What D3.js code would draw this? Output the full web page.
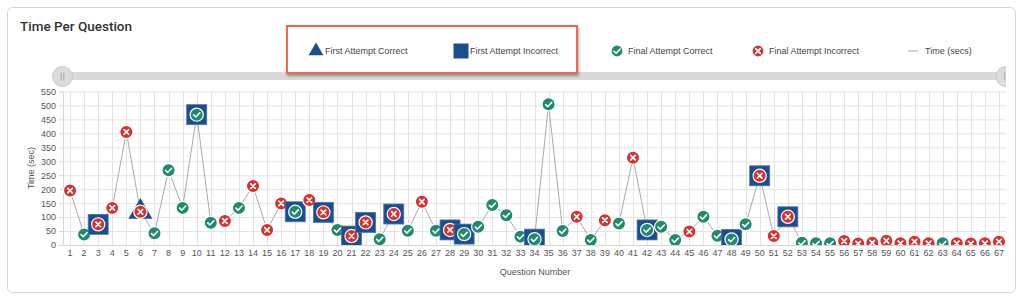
<!DOCTYPE html>
<html>
<head>
<meta charset="utf-8">
<script src="https://cdn.jsdelivr.net/npm/d3@7"></script>
<style>
  html, body { margin: 0; padding: 0; background: #fff; }
  svg { display: block; font-family: "Liberation Sans", Arial, sans-serif; }
</style>
</head>
<body>
<div id="app"></div>
<script>
// time spent on each question, in seconds
const times = [195, 38, 74, 133, 405, 119, 42, 268, 133, 467,
    80, 86, 133, 211, 54, 149, 119, 161, 117, 54,
    32, 81, 21, 111, 51, 155, 51, 54, 39, 65,
    143, 107, 30, 21, 504, 50, 101, 18, 89, 77,
    313, 54, 65, 18, 48, 101, 33, 20, 74, 248,
    32, 101, 8, 6, 6, 14, 5, 8, 15, 6,
    12, 6, 6, 6, 5, 6, 12];
// final attempt: C = correct, I = incorrect
const finalAttempt = ["I", "C", "I", "I", "I", "I", "C", "C", "C", "C",
    "C", "I", "C", "I", "I", "I", "C", "I", "I", "C",
    "I", "I", "C", "I", "C", "I", "C", "I", "C", "C",
    "C", "C", "C", "C", "C", "C", "I", "C", "I", "C",
    "I", "C", "C", "C", "I", "C", "C", "C", "C", "I",
    "I", "I", "C", "C", "C", "I", "I", "I", "I", "I",
    "I", "I", "C", "I", "I", "I", "I"];
// first attempt, only for questions that took more than one try
const firstAttempt = { 3: "I", 6: "C", 10: "I", 17: "I", 19: "I", 21: "I", 22: "I", 24: "I",
    28: "I", 29: "I", 34: "I", 42: "I", 48: "I", 50: "I", 52: "I" };
const questions = times.map((d, i) => i + 1);
const yTicks = [0, 50, 100, 150, 200, 250, 300, 350, 400, 450, 500, 550];
const legendItems = ["First Attempt Correct", "First Attempt Incorrect", "Final Attempt Correct", "Final Attempt Incorrect", "Time (secs)"];

const WIDTH = 1024, HEIGHT = 300;
const GREEN = "#1f8a6e", RED = "#d7302d", BLUE = "#1c4d8f";

const data = questions.map((q, i) => ({ q: q, t: times[i], fin: finalAttempt[i], first: firstAttempt[q] }));

const svg = d3.select("#app").append("svg")
    .attr("width", WIDTH)
    .attr("height", HEIGHT);

const defs = svg.append("defs");
const shadow = defs.append("filter").attr("id", "shadow")
    .attr("x", "-10%").attr("y", "-20%").attr("width", "120%").attr("height", "150%");
shadow.append("feDropShadow").attr("dx", 1).attr("dy", 2).attr("stdDeviation", 1.5)
    .attr("flood-color", "#000").attr("flood-opacity", 0.35);

// card
svg.append("rect")
    .attr("x", 7.5).attr("y", 7.5).attr("width", 1008).attr("height", 285)
    .attr("rx", 5).attr("fill", "#fff").attr("stroke", "#d4d4d4");

svg.append("text")
    .attr("x", 20).attr("y", 31)
    .attr("font-family", "Roboto, sans-serif")
    .attr("font-size", 13.5).attr("font-weight", 500)
    .attr("fill", "#333")
    .text("Time Per Question");

const x = d3.scaleBand().domain(questions).range([63, 1006]);
const y = d3.scaleLinear().domain([0, 550]).range([245, 91.5]);
const cx = q => x(q) + x.bandwidth() / 2;

// slider (range navigator)
defs.append("clipPath").attr("id", "sliderClip")
    .append("rect").attr("x", 40).attr("y", 60).attr("width", 966).attr("height", 30);
const slider = svg.append("g").attr("clip-path", "url(#sliderClip)");
slider.append("rect").attr("x", 62).attr("y", 72).attr("width", 944).attr("height", 8).attr("fill", "#d9d9d9");
[62.5, 1006].forEach(hx => {
    const h = slider.append("g").attr("transform", `translate(${hx},76.5)`);
    h.append("circle").attr("r", 10).attr("fill", "#dcdcdc").attr("stroke", "#c8c8c8");
    h.selectAll("line").data([-1.3, 1.3]).join("line")
        .attr("x1", d => d).attr("x2", d => d).attr("y1", -4).attr("y2", 4)
        .attr("stroke", "#999").attr("stroke-width", 0.8);
});

// grid
const chart = svg.append("g");
chart.append("g").selectAll("line").data(yTicks).join("line")
    .attr("x1", 63).attr("x2", 1006)
    .attr("y1", d => y(d) + 0.5).attr("y2", d => y(d) + 0.5)
    .attr("stroke", "#e3e3e3");
chart.append("g").selectAll("line").data(questions).join("line")
    .attr("x1", d => Math.round(cx(d)) + 0.5).attr("x2", d => Math.round(cx(d)) + 0.5)
    .attr("y1", y(550)).attr("y2", 245)
    .attr("stroke", "#e3e3e3");

// axes
const yAxis = chart.append("g").attr("transform", "translate(63,0)")
    .call(d3.axisLeft(y).tickValues(yTicks).tickSize(4).tickPadding(3));
const xAxis = chart.append("g").attr("transform", "translate(0,245)")
    .call(d3.axisBottom(x).tickSize(0).tickPadding(5));
[yAxis, xAxis].forEach(a => {
    a.select(".domain").attr("stroke", "#d6d6d6");
    a.selectAll(".tick line").attr("stroke", "#d6d6d6");
    a.selectAll("text").attr("fill", "#555").attr("font-size", 9)
        .attr("font-family", "'Liberation Sans', Arial, sans-serif");
});

chart.append("text")
    .attr("transform", "translate(34,168) rotate(-90)")
    .attr("text-anchor", "middle").attr("font-size", 9).attr("fill", "#555")
    .text("Time (sec)");
chart.append("text")
    .attr("x", 535).attr("y", 275)
    .attr("text-anchor", "middle").attr("font-size", 9).attr("fill", "#555")
    .text("Question Number");

// plot area with clipping at the axis
defs.append("clipPath").attr("id", "plotClip")
    .append("rect").attr("x", 63).attr("y", 60).attr("width", 943).attr("height", 185);
const plot = svg.append("g").attr("clip-path", "url(#plotClip)");

const line = d3.line().x(d => cx(d.q)).y(d => y(d.t));
plot.append("path").datum(data)
    .attr("d", line).attr("fill", "none").attr("stroke", "#aaa").attr("stroke-width", 1);

function drawFinal(g, fin, r) {
    g.append("circle").attr("r", r)
        .attr("fill", fin === "C" ? GREEN : RED)
        .attr("stroke", "#fff").attr("stroke-width", 1.2);
    if (fin === "C") {
        g.append("path").attr("d", "M-3,0.2L-0.9,2.3L3.1,-1.9")
            .attr("fill", "none").attr("stroke", "#fff").attr("stroke-width", 1.6)
            .attr("stroke-linecap", "round").attr("stroke-linejoin", "round");
    } else {
        g.append("path").attr("d", "M-2.3,-2.3L2.3,2.3M2.3,-2.3L-2.3,2.3")
            .attr("fill", "none").attr("stroke", "#fff").attr("stroke-width", 1.7)
            .attr("stroke-linecap", "round");
    }
}

const marks = plot.selectAll("g.mark").data(data).join("g")
    .attr("class", "mark")
    .attr("transform", d => `translate(${cx(d.q)},${y(d.t)})`);
marks.each(function (d) {
    const g = d3.select(this);
    if (d.first === "I") {
        g.append("rect").attr("x", -10).attr("y", -10).attr("width", 20).attr("height", 20)
            .attr("fill", BLUE).attr("stroke", "#4f74ad").attr("stroke-width", 0.8);
    } else if (d.first === "C") {
        g.append("path").attr("d", d3.symbol(d3.symbolTriangle, 250)()).attr("fill", BLUE);
    }
    drawFinal(g, d.fin, 6.6);
});

// legend
const legendBox = svg.append("rect")
    .attr("x", 287).attr("y", 26).attr("width", 290).attr("height", 47)
    .attr("fill", "#fff").attr("stroke", "#ec6a55").attr("stroke-width", 2)
    .attr("filter", "url(#shadow)");

const legendX = [316, 461, 617, 758, 913];
const legendTextX = [325, 470, 628, 769, 925];
const legend = svg.append("g");
legendItems.forEach((name, i) => {
    const g = legend.append("g").attr("transform", `translate(${legendX[i]},51)`);
    if (i === 0) g.append("path").attr("d", d3.symbol(d3.symbolTriangle, 95)()).attr("fill", BLUE);
    if (i === 1) g.append("rect").attr("x", -7.5).attr("y", -7.5).attr("width", 15).attr("height", 15).attr("fill", BLUE);
    if (i === 2) drawFinal(g, "C", 6);
    if (i === 3) drawFinal(g, "I", 6);
    if (i === 4) g.append("line").attr("x1", -5).attr("x2", 5).attr("stroke", "#aaa");
    legend.append("text")
        .attr("x", legendTextX[i]).attr("y", 54)
        .attr("font-size", 9).attr("fill", "#444")
        .text(name);
});
</script>
</body>
</html>
